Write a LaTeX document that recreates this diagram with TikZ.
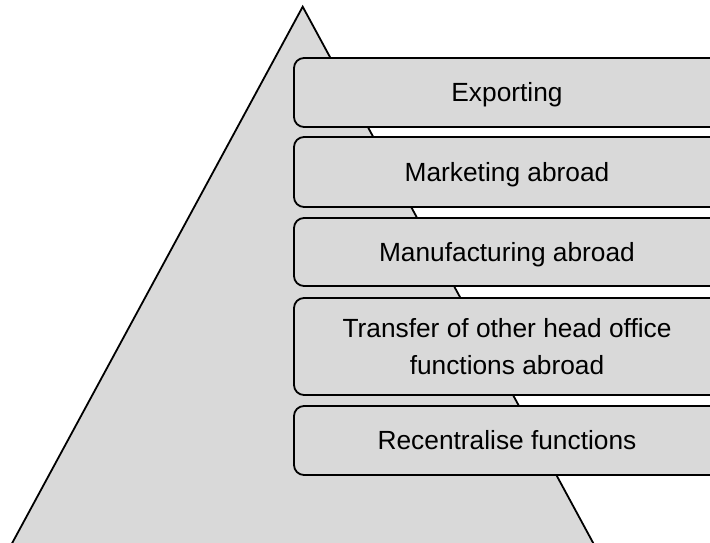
\documentclass[tikz,border=0pt]{standalone}
\usepackage{fontspec}
\setmainfont{Liberation Sans}
\definecolor{boxgray}{HTML}{D9D9D9}
\begin{document}
\begin{tikzpicture}[x=1pt,y=-1pt,
  outline/.style={draw=black, line width=1.8pt, fill=boxgray},
  stageshape/.style={outline, rounded corners=10pt, minimum width=426pt, inner sep=0pt,
    font=\fontsize{26.3}{36.7}\selectfont},
  oneline/.style={text height=18.8pt, text depth=0pt},
]
\useasboundingbox (0,0) rectangle (710,542);
\clip (0,0) rectangle (710,542);
\draw[outline, line join=miter] (302.7,6.7) -- (602.4,560) -- (3,560) -- cycle;
\node[stageshape, oneline, minimum height=69pt] (s1) at (507,92.5) {Exporting};
\node[stageshape, oneline, minimum height=70pt] (s2) at (507,172) {Marketing abroad};
\node[stageshape, oneline, minimum height=68pt] (s3) at (507,252) {Manufacturing abroad};
\node[stageshape, align=center, minimum height=97pt] (s4) at (507,346.5) {Transfer of other head office\\functions abroad};
\node[stageshape, oneline, minimum height=69pt] (s5) at (507,440.5) {Recentralise functions};
\end{tikzpicture}
\end{document}
